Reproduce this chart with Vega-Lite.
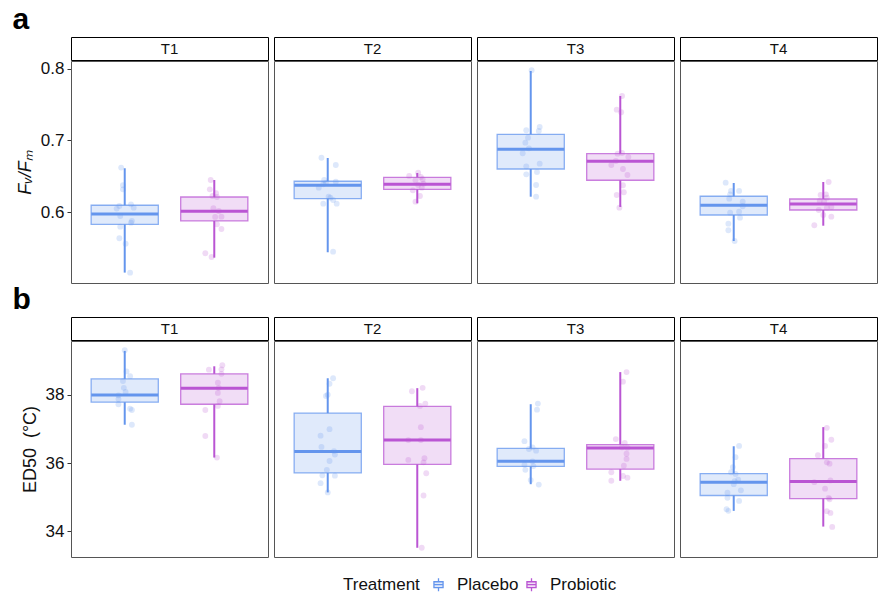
{
  "$schema": "https://vega.github.io/schema/vega-lite/v6.json",
  "padding": {"left": 12, "top": 4, "right": 2, "bottom": 0},
  "config": {
    "font": "Liberation Sans",
    "view": {"stroke": "#555555", "strokeWidth": 1},
    "axis": {"grid": false, "domain": false, "tickColor": "#333333", "tickSize": 4, "labelFontSize": 17, "labelColor": "#111111", "titleFontSize": 18, "titleFontWeight": "normal", "titleColor": "#111111", "labelPadding": 3, "titlePadding": 6},
    "legend": {"orient": "none", "legendX": 272, "legendY": 539, "direction": "horizontal", "titleOrient": "left", "titleFontSize": 17, "titleFontWeight": "normal", "labelFontSize": 17, "labelColor": "#111111", "titleColor": "#111111", "symbolType": "M-0.7,-0.45H0.7V0.45H-0.7Z M-0.7,0H0.7 M0,-1V-0.45 M0,0.45V1", "symbolSize": 170, "symbolStrokeWidth": 1.3, "columnPadding": 4, "labelOffset": 10, "titlePadding": 10},
    "title": {"fontSize": 30, "fontWeight": "bold", "color": "#000000", "anchor": "start"}
  },
  "datasets": {
    "strips": [{"Time": "T1"}, {"Time": "T2"}, {"Time": "T3"}, {"Time": "T4"}],
    "fvfm": [
      {"Time": "T1", "Treatment": "Placebo", "kind": "box", "lower": 0.516, "q1": 0.5832, "median": 0.5976, "q3": 0.6098, "upper": 0.6613},
      {"Time": "T1", "Treatment": "Probiotic", "kind": "box", "lower": 0.5368, "q1": 0.5879, "median": 0.6014, "q3": 0.6213, "upper": 0.645},
      {"Time": "T2", "Treatment": "Placebo", "kind": "box", "lower": 0.5443, "q1": 0.619, "median": 0.6376, "q3": 0.6432, "upper": 0.6756},
      {"Time": "T2", "Treatment": "Probiotic", "kind": "box", "lower": 0.6125, "q1": 0.632, "median": 0.639, "q3": 0.6487, "upper": 0.6547},
      {"Time": "T3", "Treatment": "Placebo", "kind": "box", "lower": 0.6217, "q1": 0.6603, "median": 0.6877, "q3": 0.7086, "upper": 0.7968},
      {"Time": "T3", "Treatment": "Probiotic", "kind": "box", "lower": 0.6074, "q1": 0.6446, "median": 0.671, "q3": 0.6816, "upper": 0.7619},
      {"Time": "T4", "Treatment": "Placebo", "kind": "box", "lower": 0.56, "q1": 0.5962, "median": 0.6097, "q3": 0.6223, "upper": 0.6408},
      {"Time": "T4", "Treatment": "Probiotic", "kind": "box", "lower": 0.5813, "q1": 0.6032, "median": 0.6116, "q3": 0.6185, "upper": 0.6422},
      {"Time": "T1", "Treatment": "Placebo", "kind": "pt", "value": 0.6622, "jitter": -0.04},
      {"Time": "T1", "Treatment": "Placebo", "kind": "pt", "value": 0.6376, "jitter": -0.02},
      {"Time": "T1", "Treatment": "Placebo", "kind": "pt", "value": 0.632, "jitter": -0.02},
      {"Time": "T1", "Treatment": "Placebo", "kind": "pt", "value": 0.6051, "jitter": -0.09},
      {"Time": "T1", "Treatment": "Placebo", "kind": "pt", "value": 0.6088, "jitter": -0.06},
      {"Time": "T1", "Treatment": "Placebo", "kind": "pt", "value": 0.6111, "jitter": 0.07},
      {"Time": "T1", "Treatment": "Placebo", "kind": "pt", "value": 0.6064, "jitter": 0.1},
      {"Time": "T1", "Treatment": "Placebo", "kind": "pt", "value": 0.5948, "jitter": -0.05},
      {"Time": "T1", "Treatment": "Placebo", "kind": "pt", "value": 0.5879, "jitter": 0.08},
      {"Time": "T1", "Treatment": "Placebo", "kind": "pt", "value": 0.5855, "jitter": 0.07},
      {"Time": "T1", "Treatment": "Placebo", "kind": "pt", "value": 0.58, "jitter": -0.05},
      {"Time": "T1", "Treatment": "Placebo", "kind": "pt", "value": 0.5638, "jitter": -0.06},
      {"Time": "T1", "Treatment": "Placebo", "kind": "pt", "value": 0.5563, "jitter": 0.01},
      {"Time": "T1", "Treatment": "Placebo", "kind": "pt", "value": 0.5159, "jitter": 0.06},
      {"Time": "T1", "Treatment": "Probiotic", "kind": "pt", "value": 0.645, "jitter": -0.04},
      {"Time": "T1", "Treatment": "Probiotic", "kind": "pt", "value": 0.632, "jitter": -0.05},
      {"Time": "T1", "Treatment": "Probiotic", "kind": "pt", "value": 0.6265, "jitter": 0.02},
      {"Time": "T1", "Treatment": "Probiotic", "kind": "pt", "value": 0.6227, "jitter": -0.02},
      {"Time": "T1", "Treatment": "Probiotic", "kind": "pt", "value": 0.6213, "jitter": 0.03},
      {"Time": "T1", "Treatment": "Probiotic", "kind": "pt", "value": 0.6056, "jitter": -0.01},
      {"Time": "T1", "Treatment": "Probiotic", "kind": "pt", "value": 0.6018, "jitter": 0.05},
      {"Time": "T1", "Treatment": "Probiotic", "kind": "pt", "value": 0.5935, "jitter": 0.01},
      {"Time": "T1", "Treatment": "Probiotic", "kind": "pt", "value": 0.5939, "jitter": 0.08},
      {"Time": "T1", "Treatment": "Probiotic", "kind": "pt", "value": 0.5833, "jitter": 0.03},
      {"Time": "T1", "Treatment": "Probiotic", "kind": "pt", "value": 0.5767, "jitter": 0.08},
      {"Time": "T1", "Treatment": "Probiotic", "kind": "pt", "value": 0.5429, "jitter": -0.1},
      {"Time": "T1", "Treatment": "Probiotic", "kind": "pt", "value": 0.5377, "jitter": -0.03},
      {"Time": "T2", "Treatment": "Placebo", "kind": "pt", "value": 0.676, "jitter": -0.07},
      {"Time": "T2", "Treatment": "Placebo", "kind": "pt", "value": 0.6659, "jitter": 0.09},
      {"Time": "T2", "Treatment": "Placebo", "kind": "pt", "value": 0.645, "jitter": -0.04},
      {"Time": "T2", "Treatment": "Placebo", "kind": "pt", "value": 0.6426, "jitter": 0.09},
      {"Time": "T2", "Treatment": "Placebo", "kind": "pt", "value": 0.639, "jitter": -0.05},
      {"Time": "T2", "Treatment": "Placebo", "kind": "pt", "value": 0.6343, "jitter": -0.1},
      {"Time": "T2", "Treatment": "Placebo", "kind": "pt", "value": 0.6217, "jitter": 0.01},
      {"Time": "T2", "Treatment": "Placebo", "kind": "pt", "value": 0.6171, "jitter": 0.06},
      {"Time": "T2", "Treatment": "Placebo", "kind": "pt", "value": 0.612, "jitter": -0.05},
      {"Time": "T2", "Treatment": "Placebo", "kind": "pt", "value": 0.612, "jitter": 0.1},
      {"Time": "T2", "Treatment": "Placebo", "kind": "pt", "value": 0.5451, "jitter": 0.06},
      {"Time": "T2", "Treatment": "Placebo", "kind": "pt", "value": 0.641, "jitter": -0.02},
      {"Time": "T2", "Treatment": "Placebo", "kind": "pt", "value": 0.6203, "jitter": 0.03},
      {"Time": "T2", "Treatment": "Probiotic", "kind": "pt", "value": 0.6552, "jitter": 0.01},
      {"Time": "T2", "Treatment": "Probiotic", "kind": "pt", "value": 0.6506, "jitter": -0.09},
      {"Time": "T2", "Treatment": "Probiotic", "kind": "pt", "value": 0.6492, "jitter": 0.04},
      {"Time": "T2", "Treatment": "Probiotic", "kind": "pt", "value": 0.6446, "jitter": -0.02},
      {"Time": "T2", "Treatment": "Probiotic", "kind": "pt", "value": 0.646, "jitter": 0.06},
      {"Time": "T2", "Treatment": "Probiotic", "kind": "pt", "value": 0.6398, "jitter": 0.07},
      {"Time": "T2", "Treatment": "Probiotic", "kind": "pt", "value": 0.638, "jitter": 0.01},
      {"Time": "T2", "Treatment": "Probiotic", "kind": "pt", "value": 0.6306, "jitter": -0.05},
      {"Time": "T2", "Treatment": "Probiotic", "kind": "pt", "value": 0.6343, "jitter": 0.05},
      {"Time": "T2", "Treatment": "Probiotic", "kind": "pt", "value": 0.6227, "jitter": 0.03},
      {"Time": "T2", "Treatment": "Probiotic", "kind": "pt", "value": 0.6148, "jitter": -0.02},
      {"Time": "T3", "Treatment": "Placebo", "kind": "pt", "value": 0.7978, "jitter": 0.01},
      {"Time": "T3", "Treatment": "Placebo", "kind": "pt", "value": 0.7188, "jitter": 0.1},
      {"Time": "T3", "Treatment": "Placebo", "kind": "pt", "value": 0.7142, "jitter": -0.05},
      {"Time": "T3", "Treatment": "Placebo", "kind": "pt", "value": 0.7132, "jitter": 0.09},
      {"Time": "T3", "Treatment": "Placebo", "kind": "pt", "value": 0.7039, "jitter": -0.03},
      {"Time": "T3", "Treatment": "Placebo", "kind": "pt", "value": 0.6969, "jitter": -0.06},
      {"Time": "T3", "Treatment": "Placebo", "kind": "pt", "value": 0.6891, "jitter": -0.02},
      {"Time": "T3", "Treatment": "Placebo", "kind": "pt", "value": 0.6822, "jitter": -0.09},
      {"Time": "T3", "Treatment": "Placebo", "kind": "pt", "value": 0.664, "jitter": -0.05},
      {"Time": "T3", "Treatment": "Placebo", "kind": "pt", "value": 0.6677, "jitter": 0.1},
      {"Time": "T3", "Treatment": "Placebo", "kind": "pt", "value": 0.6529, "jitter": -0.05},
      {"Time": "T3", "Treatment": "Placebo", "kind": "pt", "value": 0.6561, "jitter": 0.07},
      {"Time": "T3", "Treatment": "Placebo", "kind": "pt", "value": 0.638, "jitter": 0.06},
      {"Time": "T3", "Treatment": "Placebo", "kind": "pt", "value": 0.6217, "jitter": 0.06},
      {"Time": "T3", "Treatment": "Probiotic", "kind": "pt", "value": 0.762, "jitter": 0.02},
      {"Time": "T3", "Treatment": "Probiotic", "kind": "pt", "value": 0.7429, "jitter": -0.04},
      {"Time": "T3", "Treatment": "Probiotic", "kind": "pt", "value": 0.7393, "jitter": 0.01},
      {"Time": "T3", "Treatment": "Probiotic", "kind": "pt", "value": 0.6816, "jitter": -0.03},
      {"Time": "T3", "Treatment": "Probiotic", "kind": "pt", "value": 0.6826, "jitter": 0.02},
      {"Time": "T3", "Treatment": "Probiotic", "kind": "pt", "value": 0.677, "jitter": 0.09},
      {"Time": "T3", "Treatment": "Probiotic", "kind": "pt", "value": 0.6714, "jitter": -0.05},
      {"Time": "T3", "Treatment": "Probiotic", "kind": "pt", "value": 0.6659, "jitter": -0.1},
      {"Time": "T3", "Treatment": "Probiotic", "kind": "pt", "value": 0.6603, "jitter": 0.03},
      {"Time": "T3", "Treatment": "Probiotic", "kind": "pt", "value": 0.6519, "jitter": 0.08},
      {"Time": "T3", "Treatment": "Probiotic", "kind": "pt", "value": 0.6376, "jitter": 0.03},
      {"Time": "T3", "Treatment": "Probiotic", "kind": "pt", "value": 0.6279, "jitter": 0.04},
      {"Time": "T3", "Treatment": "Probiotic", "kind": "pt", "value": 0.6241, "jitter": -0.04},
      {"Time": "T3", "Treatment": "Probiotic", "kind": "pt", "value": 0.6064, "jitter": -0.01},
      {"Time": "T4", "Treatment": "Placebo", "kind": "pt", "value": 0.6412, "jitter": -0.09},
      {"Time": "T4", "Treatment": "Placebo", "kind": "pt", "value": 0.6297, "jitter": -0.03},
      {"Time": "T4", "Treatment": "Placebo", "kind": "pt", "value": 0.6297, "jitter": 0.06},
      {"Time": "T4", "Treatment": "Placebo", "kind": "pt", "value": 0.625, "jitter": -0.04},
      {"Time": "T4", "Treatment": "Placebo", "kind": "pt", "value": 0.619, "jitter": -0.05},
      {"Time": "T4", "Treatment": "Placebo", "kind": "pt", "value": 0.6148, "jitter": 0.1},
      {"Time": "T4", "Treatment": "Placebo", "kind": "pt", "value": 0.6084, "jitter": 0.1},
      {"Time": "T4", "Treatment": "Placebo", "kind": "pt", "value": 0.5994, "jitter": -0.04},
      {"Time": "T4", "Treatment": "Placebo", "kind": "pt", "value": 0.6008, "jitter": 0.06},
      {"Time": "T4", "Treatment": "Placebo", "kind": "pt", "value": 0.5925, "jitter": 0.07},
      {"Time": "T4", "Treatment": "Placebo", "kind": "pt", "value": 0.5841, "jitter": -0.06},
      {"Time": "T4", "Treatment": "Placebo", "kind": "pt", "value": 0.575, "jitter": -0.06},
      {"Time": "T4", "Treatment": "Placebo", "kind": "pt", "value": 0.56, "jitter": 0.01},
      {"Time": "T4", "Treatment": "Probiotic", "kind": "pt", "value": 0.6422, "jitter": 0.06},
      {"Time": "T4", "Treatment": "Probiotic", "kind": "pt", "value": 0.6241, "jitter": -0.03},
      {"Time": "T4", "Treatment": "Probiotic", "kind": "pt", "value": 0.625, "jitter": 0.03},
      {"Time": "T4", "Treatment": "Probiotic", "kind": "pt", "value": 0.6203, "jitter": 0.04},
      {"Time": "T4", "Treatment": "Probiotic", "kind": "pt", "value": 0.6157, "jitter": -0.04},
      {"Time": "T4", "Treatment": "Probiotic", "kind": "pt", "value": 0.6148, "jitter": 0.01},
      {"Time": "T4", "Treatment": "Probiotic", "kind": "pt", "value": 0.6074, "jitter": 0.09},
      {"Time": "T4", "Treatment": "Probiotic", "kind": "pt", "value": 0.6064, "jitter": 0.04},
      {"Time": "T4", "Treatment": "Probiotic", "kind": "pt", "value": 0.6032, "jitter": -0.05},
      {"Time": "T4", "Treatment": "Probiotic", "kind": "pt", "value": 0.5962, "jitter": 0.0},
      {"Time": "T4", "Treatment": "Probiotic", "kind": "pt", "value": 0.5939, "jitter": 0.09},
      {"Time": "T4", "Treatment": "Probiotic", "kind": "pt", "value": 0.5819, "jitter": -0.1}
    ],
    "ed50": [
      {"Time": "T1", "Treatment": "Placebo", "kind": "box", "lower": 37.12, "q1": 37.78, "median": 37.99, "q3": 38.46, "upper": 39.28},
      {"Time": "T1", "Treatment": "Probiotic", "kind": "box", "lower": 36.16, "q1": 37.72, "median": 38.19, "q3": 38.61, "upper": 38.83},
      {"Time": "T2", "Treatment": "Placebo", "kind": "box", "lower": 35.14, "q1": 35.71, "median": 36.34, "q3": 37.46, "upper": 38.48},
      {"Time": "T2", "Treatment": "Probiotic", "kind": "box", "lower": 33.52, "q1": 35.96, "median": 36.67, "q3": 37.66, "upper": 38.19},
      {"Time": "T3", "Treatment": "Placebo", "kind": "box", "lower": 35.38, "q1": 35.9, "median": 36.05, "q3": 36.43, "upper": 37.72},
      {"Time": "T3", "Treatment": "Probiotic", "kind": "box", "lower": 35.48, "q1": 35.82, "median": 36.44, "q3": 36.54, "upper": 38.66},
      {"Time": "T4", "Treatment": "Placebo", "kind": "box", "lower": 34.6, "q1": 35.05, "median": 35.44, "q3": 35.69, "upper": 36.49},
      {"Time": "T4", "Treatment": "Probiotic", "kind": "box", "lower": 34.14, "q1": 34.96, "median": 35.46, "q3": 36.13, "upper": 37.05},
      {"Time": "T1", "Treatment": "Placebo", "kind": "pt", "value": 39.3, "jitter": 0.0},
      {"Time": "T1", "Treatment": "Placebo", "kind": "pt", "value": 38.68, "jitter": 0.02},
      {"Time": "T1", "Treatment": "Placebo", "kind": "pt", "value": 38.54, "jitter": 0.06},
      {"Time": "T1", "Treatment": "Placebo", "kind": "pt", "value": 38.4, "jitter": -0.02},
      {"Time": "T1", "Treatment": "Placebo", "kind": "pt", "value": 38.2, "jitter": -0.01},
      {"Time": "T1", "Treatment": "Placebo", "kind": "pt", "value": 38.08, "jitter": 0.01},
      {"Time": "T1", "Treatment": "Placebo", "kind": "pt", "value": 37.98, "jitter": -0.07},
      {"Time": "T1", "Treatment": "Placebo", "kind": "pt", "value": 37.87, "jitter": -0.07},
      {"Time": "T1", "Treatment": "Placebo", "kind": "pt", "value": 37.72, "jitter": -0.07},
      {"Time": "T1", "Treatment": "Placebo", "kind": "pt", "value": 37.59, "jitter": 0.06},
      {"Time": "T1", "Treatment": "Placebo", "kind": "pt", "value": 37.55, "jitter": 0.08},
      {"Time": "T1", "Treatment": "Placebo", "kind": "pt", "value": 37.12, "jitter": 0.08},
      {"Time": "T1", "Treatment": "Probiotic", "kind": "pt", "value": 38.86, "jitter": 0.09},
      {"Time": "T1", "Treatment": "Probiotic", "kind": "pt", "value": 38.73, "jitter": -0.06},
      {"Time": "T1", "Treatment": "Probiotic", "kind": "pt", "value": 38.74, "jitter": 0.08},
      {"Time": "T1", "Treatment": "Probiotic", "kind": "pt", "value": 38.61, "jitter": 0.08},
      {"Time": "T1", "Treatment": "Probiotic", "kind": "pt", "value": 38.35, "jitter": 0.04},
      {"Time": "T1", "Treatment": "Probiotic", "kind": "pt", "value": 38.2, "jitter": 0.05},
      {"Time": "T1", "Treatment": "Probiotic", "kind": "pt", "value": 38.05, "jitter": 0.04},
      {"Time": "T1", "Treatment": "Probiotic", "kind": "pt", "value": 37.81, "jitter": 0.06},
      {"Time": "T1", "Treatment": "Probiotic", "kind": "pt", "value": 37.67, "jitter": 0.04},
      {"Time": "T1", "Treatment": "Probiotic", "kind": "pt", "value": 37.55, "jitter": -0.1},
      {"Time": "T1", "Treatment": "Probiotic", "kind": "pt", "value": 36.79, "jitter": -0.1},
      {"Time": "T1", "Treatment": "Probiotic", "kind": "pt", "value": 36.16, "jitter": 0.03},
      {"Time": "T2", "Treatment": "Placebo", "kind": "pt", "value": 38.48, "jitter": 0.06},
      {"Time": "T2", "Treatment": "Placebo", "kind": "pt", "value": 38.32, "jitter": 0.02},
      {"Time": "T2", "Treatment": "Placebo", "kind": "pt", "value": 37.96, "jitter": -0.02},
      {"Time": "T2", "Treatment": "Placebo", "kind": "pt", "value": 38.0, "jitter": 0.0},
      {"Time": "T2", "Treatment": "Placebo", "kind": "pt", "value": 36.99, "jitter": 0.02},
      {"Time": "T2", "Treatment": "Placebo", "kind": "pt", "value": 36.8, "jitter": -0.08},
      {"Time": "T2", "Treatment": "Placebo", "kind": "pt", "value": 36.47, "jitter": -0.07},
      {"Time": "T2", "Treatment": "Placebo", "kind": "pt", "value": 36.35, "jitter": 0.07},
      {"Time": "T2", "Treatment": "Placebo", "kind": "pt", "value": 36.25, "jitter": 0.08},
      {"Time": "T2", "Treatment": "Placebo", "kind": "pt", "value": 36.06, "jitter": 0.02},
      {"Time": "T2", "Treatment": "Placebo", "kind": "pt", "value": 35.8, "jitter": -0.01},
      {"Time": "T2", "Treatment": "Placebo", "kind": "pt", "value": 35.64, "jitter": -0.06},
      {"Time": "T2", "Treatment": "Placebo", "kind": "pt", "value": 35.63, "jitter": 0.08},
      {"Time": "T2", "Treatment": "Placebo", "kind": "pt", "value": 35.41, "jitter": -0.08},
      {"Time": "T2", "Treatment": "Placebo", "kind": "pt", "value": 35.14, "jitter": 0.0},
      {"Time": "T2", "Treatment": "Probiotic", "kind": "pt", "value": 38.2, "jitter": 0.06},
      {"Time": "T2", "Treatment": "Probiotic", "kind": "pt", "value": 38.1, "jitter": -0.06},
      {"Time": "T2", "Treatment": "Probiotic", "kind": "pt", "value": 37.74, "jitter": 0.09},
      {"Time": "T2", "Treatment": "Probiotic", "kind": "pt", "value": 37.67, "jitter": 0.03},
      {"Time": "T2", "Treatment": "Probiotic", "kind": "pt", "value": 37.05, "jitter": 0.04},
      {"Time": "T2", "Treatment": "Probiotic", "kind": "pt", "value": 36.67, "jitter": -0.1},
      {"Time": "T2", "Treatment": "Probiotic", "kind": "pt", "value": 36.67, "jitter": 0.04},
      {"Time": "T2", "Treatment": "Probiotic", "kind": "pt", "value": 36.09, "jitter": -0.1},
      {"Time": "T2", "Treatment": "Probiotic", "kind": "pt", "value": 36.14, "jitter": 0.08},
      {"Time": "T2", "Treatment": "Probiotic", "kind": "pt", "value": 36.02, "jitter": 0.07},
      {"Time": "T2", "Treatment": "Probiotic", "kind": "pt", "value": 35.7, "jitter": 0.1},
      {"Time": "T2", "Treatment": "Probiotic", "kind": "pt", "value": 35.05, "jitter": 0.07},
      {"Time": "T2", "Treatment": "Probiotic", "kind": "pt", "value": 33.52, "jitter": 0.05},
      {"Time": "T3", "Treatment": "Placebo", "kind": "pt", "value": 37.74, "jitter": 0.08},
      {"Time": "T3", "Treatment": "Placebo", "kind": "pt", "value": 37.56, "jitter": 0.07},
      {"Time": "T3", "Treatment": "Placebo", "kind": "pt", "value": 36.64, "jitter": -0.07},
      {"Time": "T3", "Treatment": "Placebo", "kind": "pt", "value": 36.41, "jitter": -0.02},
      {"Time": "T3", "Treatment": "Placebo", "kind": "pt", "value": 36.46, "jitter": 0.02},
      {"Time": "T3", "Treatment": "Placebo", "kind": "pt", "value": 36.36, "jitter": 0.06},
      {"Time": "T3", "Treatment": "Placebo", "kind": "pt", "value": 36.05, "jitter": 0.02},
      {"Time": "T3", "Treatment": "Placebo", "kind": "pt", "value": 35.95, "jitter": -0.07},
      {"Time": "T3", "Treatment": "Placebo", "kind": "pt", "value": 35.91, "jitter": 0.03},
      {"Time": "T3", "Treatment": "Placebo", "kind": "pt", "value": 35.8, "jitter": -0.06},
      {"Time": "T3", "Treatment": "Placebo", "kind": "pt", "value": 35.5, "jitter": 0.0},
      {"Time": "T3", "Treatment": "Placebo", "kind": "pt", "value": 35.37, "jitter": 0.09},
      {"Time": "T3", "Treatment": "Probiotic", "kind": "pt", "value": 38.66, "jitter": 0.07},
      {"Time": "T3", "Treatment": "Probiotic", "kind": "pt", "value": 38.38, "jitter": 0.03},
      {"Time": "T3", "Treatment": "Probiotic", "kind": "pt", "value": 36.7, "jitter": -0.05},
      {"Time": "T3", "Treatment": "Probiotic", "kind": "pt", "value": 36.59, "jitter": 0.05},
      {"Time": "T3", "Treatment": "Probiotic", "kind": "pt", "value": 36.46, "jitter": 0.02},
      {"Time": "T3", "Treatment": "Probiotic", "kind": "pt", "value": 36.45, "jitter": 0.08},
      {"Time": "T3", "Treatment": "Probiotic", "kind": "pt", "value": 36.27, "jitter": 0.07},
      {"Time": "T3", "Treatment": "Probiotic", "kind": "pt", "value": 36.12, "jitter": 0.07},
      {"Time": "T3", "Treatment": "Probiotic", "kind": "pt", "value": 35.92, "jitter": 0.04},
      {"Time": "T3", "Treatment": "Probiotic", "kind": "pt", "value": 35.73, "jitter": -0.1},
      {"Time": "T3", "Treatment": "Probiotic", "kind": "pt", "value": 35.62, "jitter": 0.03},
      {"Time": "T3", "Treatment": "Probiotic", "kind": "pt", "value": 35.57, "jitter": 0.08},
      {"Time": "T3", "Treatment": "Probiotic", "kind": "pt", "value": 35.48, "jitter": -0.1},
      {"Time": "T4", "Treatment": "Placebo", "kind": "pt", "value": 36.5, "jitter": 0.06},
      {"Time": "T4", "Treatment": "Placebo", "kind": "pt", "value": 36.17, "jitter": 0.02},
      {"Time": "T4", "Treatment": "Placebo", "kind": "pt", "value": 35.88, "jitter": -0.01},
      {"Time": "T4", "Treatment": "Placebo", "kind": "pt", "value": 35.73, "jitter": -0.03},
      {"Time": "T4", "Treatment": "Placebo", "kind": "pt", "value": 35.68, "jitter": 0.02},
      {"Time": "T4", "Treatment": "Placebo", "kind": "pt", "value": 35.51, "jitter": 0.05},
      {"Time": "T4", "Treatment": "Placebo", "kind": "pt", "value": 35.47, "jitter": 0.01},
      {"Time": "T4", "Treatment": "Placebo", "kind": "pt", "value": 35.38, "jitter": 0.0},
      {"Time": "T4", "Treatment": "Placebo", "kind": "pt", "value": 35.2, "jitter": 0.08},
      {"Time": "T4", "Treatment": "Placebo", "kind": "pt", "value": 35.13, "jitter": -0.07},
      {"Time": "T4", "Treatment": "Placebo", "kind": "pt", "value": 34.98, "jitter": -0.07},
      {"Time": "T4", "Treatment": "Placebo", "kind": "pt", "value": 34.89, "jitter": 0.06},
      {"Time": "T4", "Treatment": "Placebo", "kind": "pt", "value": 34.65, "jitter": -0.08},
      {"Time": "T4", "Treatment": "Placebo", "kind": "pt", "value": 34.6, "jitter": -0.06},
      {"Time": "T4", "Treatment": "Probiotic", "kind": "pt", "value": 37.03, "jitter": 0.04},
      {"Time": "T4", "Treatment": "Probiotic", "kind": "pt", "value": 36.68, "jitter": 0.09},
      {"Time": "T4", "Treatment": "Probiotic", "kind": "pt", "value": 36.5, "jitter": 0.02},
      {"Time": "T4", "Treatment": "Probiotic", "kind": "pt", "value": 36.23, "jitter": -0.06},
      {"Time": "T4", "Treatment": "Probiotic", "kind": "pt", "value": 36.02, "jitter": 0.04},
      {"Time": "T4", "Treatment": "Probiotic", "kind": "pt", "value": 35.98, "jitter": 0.07},
      {"Time": "T4", "Treatment": "Probiotic", "kind": "pt", "value": 35.49, "jitter": 0.08},
      {"Time": "T4", "Treatment": "Probiotic", "kind": "pt", "value": 35.44, "jitter": -0.1},
      {"Time": "T4", "Treatment": "Probiotic", "kind": "pt", "value": 35.25, "jitter": 0.02},
      {"Time": "T4", "Treatment": "Probiotic", "kind": "pt", "value": 34.98, "jitter": 0.06},
      {"Time": "T4", "Treatment": "Probiotic", "kind": "pt", "value": 34.94, "jitter": 0.07},
      {"Time": "T4", "Treatment": "Probiotic", "kind": "pt", "value": 34.59, "jitter": 0.04},
      {"Time": "T4", "Treatment": "Probiotic", "kind": "pt", "value": 34.54, "jitter": 0.08},
      {"Time": "T4", "Treatment": "Probiotic", "kind": "pt", "value": 34.13, "jitter": 0.1}
    ]
  },
  "spacing": 0,
  "resolve": {"scale": {"y": "independent", "color": "shared", "stroke": "shared"}},
  "vconcat": [
    {
      "spacing": -3,
      "vconcat": [
        {
          "title": {"text": "a", "dx": -58, "offset": 2},
          "data": {"name": "strips"},
          "facet": {"column": {"field": "Time", "type": "nominal", "title": null, "header": null}},
          "spacing": 6,
          "bounds": "flush",
          "spec": {
            "width": 197, "height": 23,
            "view": {"stroke": "#000000", "strokeWidth": 1},
            "mark": {"type": "text", "fontSize": 15, "color": "#111111"},
            "encoding": {"text": {"field": "Time", "type": "nominal"}}
          }
        },
        {
          "data": {"name": "fvfm"},
          "facet": {"column": {"field": "Time", "type": "nominal", "title": null, "header": null}},
          "spacing": 6,
          "bounds": "flush",
          "spec": {
            "width": 197, "height": 222,
            "encoding": {
              "x": {"field": "Treatment", "type": "nominal", "axis": null, "scale": {"domain": ["Placebo", "Probiotic"], "paddingInner": 0.25, "paddingOuter": 0.225}},
              "color": {"field": "Treatment", "type": "nominal", "title": "Treatment", "scale": {"domain": ["Placebo", "Probiotic"], "range": ["#6495ED", "#BA55D3"]},
                "legend": {"encode": {"symbols": {"update": {"fill": {"scale": "color", "field": "value"}, "fillOpacity": {"value": 0.2}, "stroke": {"scale": "color", "field": "value"}, "strokeOpacity": {"value": 1}, "opacity": {"value": 1}}}}}}
            },
            "resolve": {"scale": {"xOffset": "independent"}},
            "layer": [
              {
                "transform": [{"filter": "datum.kind === 'box'"}],
                "mark": {"type": "rule", "strokeWidth": 2},
                "encoding": {
                  "y": {"field": "lower", "type": "quantitative", "scale": {"domain": [0.5015, 0.8107], "nice": false, "zero": false}, "axis": {"title": "Fᵥ/Fₘ", "titleFontStyle": "italic", "values": [0.6, 0.7, 0.8], "format": ".1f"}},
                  "y2": {"field": "q1"}
                }
              },
              {
                "transform": [{"filter": "datum.kind === 'box'"}],
                "mark": {"type": "rule", "strokeWidth": 2},
                "encoding": {"y": {"field": "q3", "type": "quantitative"}, "y2": {"field": "upper"}}
              },
              {
                "transform": [{"filter": "datum.kind === 'box'"}],
                "mark": {"type": "bar", "fillOpacity": 0.2, "strokeWidth": 1.3, "strokeOpacity": 0.75},
                "encoding": {
                  "y": {"field": "q1", "type": "quantitative"}, "y2": {"field": "q3"},
                  "stroke": {"field": "Treatment", "type": "nominal", "scale": {"domain": ["Placebo", "Probiotic"], "range": ["#6495ED", "#BA55D3"]}, "legend": null}
                }
              },
              {
                "transform": [{"filter": "datum.kind === 'box'"}],
                "mark": {"type": "tick", "thickness": 3, "size": 67, "opacity": 1},
                "encoding": {"y": {"field": "median", "type": "quantitative"}}
              },
              {
                "transform": [{"filter": "datum.kind === 'pt'"}],
                "mark": {"type": "circle", "size": 34, "opacity": 0.22},
                "encoding": {
                  "y": {"field": "value", "type": "quantitative"},
                  "xOffset": {"field": "jitter", "type": "quantitative", "scale": {"domain": [-0.375, 0.375], "range": [0, 67.16]}}
                }
              }
            ]
          }
        }
      ]
    },
    {
      "spacing": -3,
      "vconcat": [
        {
          "title": {"text": "b", "dx": -58, "offset": 2},
          "data": {"name": "strips"},
          "facet": {"column": {"field": "Time", "type": "nominal", "title": null, "header": null}},
          "spacing": 6,
          "bounds": "flush",
          "spec": {
            "width": 197, "height": 23,
            "view": {"stroke": "#000000", "strokeWidth": 1},
            "mark": {"type": "text", "fontSize": 15, "color": "#111111"},
            "encoding": {"text": {"field": "Time", "type": "nominal"}}
          }
        },
        {
          "data": {"name": "ed50"},
          "facet": {"column": {"field": "Time", "type": "nominal", "title": null, "header": null}},
          "spacing": 6,
          "bounds": "flush",
          "spec": {
            "width": 197, "height": 216,
            "encoding": {
              "x": {"field": "Treatment", "type": "nominal", "axis": null, "scale": {"domain": ["Placebo", "Probiotic"], "paddingInner": 0.25, "paddingOuter": 0.225}},
              "color": {"field": "Treatment", "type": "nominal", "title": "Treatment", "scale": {"domain": ["Placebo", "Probiotic"], "range": ["#6495ED", "#BA55D3"]}}
            },
            "resolve": {"scale": {"xOffset": "independent"}},
            "layer": [
              {
                "transform": [{"filter": "datum.kind === 'box'"}],
                "mark": {"type": "rule", "strokeWidth": 2},
                "encoding": {
                  "y": {"field": "lower", "type": "quantitative", "scale": {"domain": [33.25, 39.57], "nice": false, "zero": false}, "axis": {"title": "ED50\u00a0\u00a0(°C)", "values": [34, 36, 38]}},
                  "y2": {"field": "q1"}
                }
              },
              {
                "transform": [{"filter": "datum.kind === 'box'"}],
                "mark": {"type": "rule", "strokeWidth": 2},
                "encoding": {"y": {"field": "q3", "type": "quantitative"}, "y2": {"field": "upper"}}
              },
              {
                "transform": [{"filter": "datum.kind === 'box'"}],
                "mark": {"type": "bar", "fillOpacity": 0.2, "strokeWidth": 1.3, "strokeOpacity": 0.75},
                "encoding": {
                  "y": {"field": "q1", "type": "quantitative"}, "y2": {"field": "q3"},
                  "stroke": {"field": "Treatment", "type": "nominal", "scale": {"domain": ["Placebo", "Probiotic"], "range": ["#6495ED", "#BA55D3"]}, "legend": null}
                }
              },
              {
                "transform": [{"filter": "datum.kind === 'box'"}],
                "mark": {"type": "tick", "thickness": 3, "size": 67, "opacity": 1},
                "encoding": {"y": {"field": "median", "type": "quantitative"}}
              },
              {
                "transform": [{"filter": "datum.kind === 'pt'"}],
                "mark": {"type": "circle", "size": 34, "opacity": 0.22},
                "encoding": {
                  "y": {"field": "value", "type": "quantitative"},
                  "xOffset": {"field": "jitter", "type": "quantitative", "scale": {"domain": [-0.375, 0.375], "range": [0, 67.16]}}
                }
              }
            ]
          }
        }
      ]
    }
  ]
}
